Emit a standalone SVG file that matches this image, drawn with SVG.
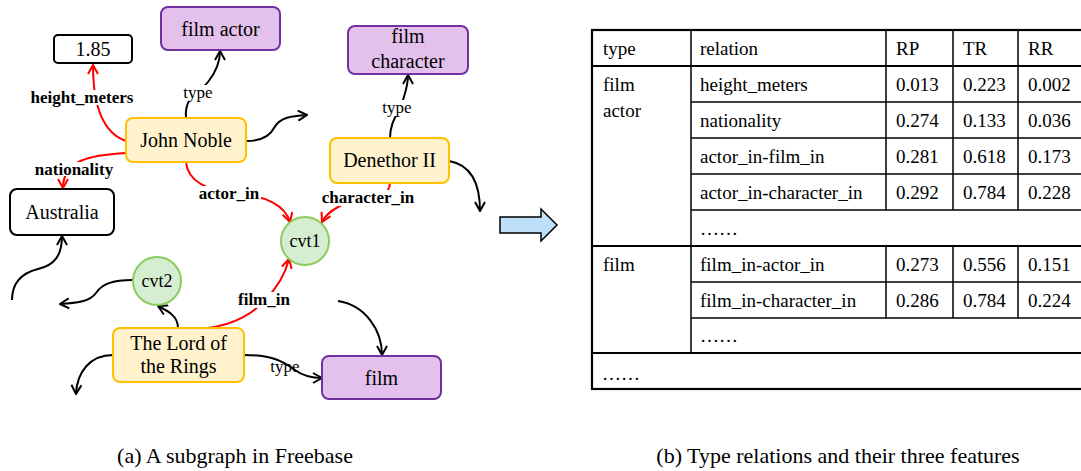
<svg xmlns="http://www.w3.org/2000/svg" width="1081" height="471" viewBox="0 0 1081 471">
<style>
text{font-family:"Liberation Serif","Times New Roman",serif;fill:#000}
.n{font-size:20px;text-anchor:middle}
.c{font-size:18px;text-anchor:middle}
.lb{font-size:17px;font-weight:bold;text-anchor:middle}
.lt{font-size:17px;text-anchor:middle}
.t{font-size:19px}
.cap{font-size:22px;text-anchor:middle}
.yel{fill:#FFF2CC;stroke:#FFC000;stroke-width:2}
.pur{fill:#E4C1EC;stroke:#7030A0;stroke-width:2}
.wht{fill:#fff;stroke:#000;stroke-width:2}
.grn{fill:#D5EDD0;stroke:#8CCB5E;stroke-width:2}
.eb{fill:none;stroke:#000;stroke-width:2;marker-end:url(#ab)}
.er{fill:none;stroke:#FF0000;stroke-width:2;marker-end:url(#ar)}
.bg{fill:#fff}
.tl{stroke:#000;stroke-width:1.5;fill:none}
.tk{stroke:#000;stroke-width:2.2;fill:none}
</style>
<defs>
<marker id="ab" viewBox="0 0 12 12" refX="11" refY="6" markerWidth="12" markerHeight="12" orient="auto" markerUnits="userSpaceOnUse"><path d="M2,1 L11,6 L2,11" fill="none" stroke="#000" stroke-width="2"/></marker>
<marker id="ar" viewBox="0 0 12 12" refX="11" refY="6" markerWidth="12" markerHeight="12" orient="auto" markerUnits="userSpaceOnUse"><path d="M2,1 L11,6 L2,11" fill="none" stroke="#FF0000" stroke-width="2"/></marker>
</defs>
<rect width="1081" height="471" fill="#fff"/>

<g id="connectors">
<path class="er" d="M126,141 C100,132 93,100 93,65"/>
<path class="er" d="M126,153 C90,155 63,160 63,188"/>
<path class="eb" d="M186,118 C184,95 200,92 208,82 C216,72 220,62 220,51"/>
<path class="eb" d="M246,141 C262,141 270,136 274,128 C280,117 292,116 307,115"/>
<path class="er" d="M186,162 C188,185 215,192 240,194 C265,196 285,205 290,222"/>
<path class="er" d="M390,183 C390,196 375,198 360,200 C345,202 328,210 322,222"/>
<path class="eb" d="M390,138 C390,120 400,112 403,100 C406,90 408,85 408,75"/>
<path class="eb" d="M449,161 C472,165 480,185 480,211"/>
<path class="er" d="M207,328 C235,325 255,312 265,300 C275,290 285,275 289,259"/>
<path class="eb" d="M178,328 C178,316 168,311 158,306"/>
<path class="eb" d="M133,280 C112,280 102,284 96,293 C90,302 75,303 60,304"/>
<path class="eb" d="M113,355 C90,355 77,372 76,394"/>
<path class="eb" d="M12,300 C12,282 22,273 38,269 C55,265 62,255 62,236"/>
<path class="eb" d="M244,355 C275,355 285,363 295,370 C303,376 312,378 322,378"/>
<path class="eb" d="M338,301 C365,305 382,330 382,355"/>
<rect class="bg" x="27" y="90" width="110" height="15"/>
<text class="lb" x="82" y="103">height_meters</text>
<rect class="bg" x="33" y="162" width="82" height="14"/>
<text class="lb" x="74" y="175">nationality</text>
<rect class="bg" x="183" y="85" width="30" height="16"/>
<text class="lt" x="198" y="98">type</text>
<rect class="bg" x="197" y="186" width="64" height="15"/>
<text class="lb" x="229" y="199">actor_in</text>
<rect class="bg" x="319" y="190" width="98" height="16"/>
<text class="lb" x="368" y="203">character_in</text>
<rect class="bg" x="382" y="100" width="30" height="16"/>
<text class="lt" x="397" y="113">type</text>
<rect class="bg" x="237" y="292" width="55" height="16"/>
<text class="lb" x="264" y="305">film_in</text>
<text class="lt" x="285" y="372">type</text>
</g>

<g id="n-185"><rect class="wht" x="54" y="35" width="78" height="28" rx="4"/><text class="n" x="93" y="56">1.85</text></g>
<g id="n-filmactor"><rect class="pur" x="161" y="7" width="119" height="43" rx="7"/><text class="n" x="220.5" y="36">film actor</text></g>
<g id="n-john"><rect class="yel" x="126" y="118" width="120" height="44" rx="7"/><text class="n" x="186" y="147">John Noble</text></g>
<g id="n-australia"><rect class="wht" x="10" y="189" width="104" height="46" rx="7"/><text class="n" x="62" y="219">Australia</text></g>
<g id="n-filmchar"><rect class="pur" x="348" y="26" width="120" height="48" rx="7"/><text class="n" x="408" y="43">film</text><text class="n" x="408" y="68">character</text></g>
<g id="n-denethor"><rect class="yel" x="330" y="138" width="119" height="45" rx="7"/><text class="n" x="389.5" y="167">Denethor II</text></g>
<g id="n-cvt1"><circle class="grn" cx="305" cy="241" r="24"/><text class="c" x="305" y="247">cvt1</text></g>
<g id="n-cvt2"><circle class="grn" cx="157" cy="281" r="24"/><text class="c" x="157" y="287">cvt2</text></g>
<g id="n-lotr"><rect class="yel" x="113" y="328" width="131" height="54" rx="7"/><text class="n" x="178.5" y="350">The Lord of</text><text class="n" x="178.5" y="373">the Rings</text></g>
<g id="n-film"><rect class="pur" x="322" y="356" width="119" height="43" rx="7"/><text class="n" x="381.5" y="385">film</text></g>

<g id="bigarrow"><path d="M500,217 L541,217 L541,209 L557,225 L541,241 L541,233 L500,233 Z" fill="#BDDFF8" stroke="#000" stroke-width="1.5" stroke-linejoin="miter"/></g>

<g id="table">
<rect class="tk" x="592" y="30" width="500" height="359"/>
<line class="tk" x1="592" y1="66" x2="1085" y2="66"/>
<line class="tl" x1="691" y1="102" x2="1085" y2="102"/>
<line class="tl" x1="691" y1="138" x2="1085" y2="138"/>
<line class="tl" x1="691" y1="174" x2="1085" y2="174"/>
<line class="tl" x1="691" y1="210" x2="1085" y2="210"/>
<line class="tk" x1="592" y1="246" x2="1085" y2="246"/>
<line class="tl" x1="691" y1="282" x2="1085" y2="282"/>
<line class="tl" x1="691" y1="318" x2="1085" y2="318"/>
<line class="tk" x1="592" y1="353" x2="1085" y2="353"/>
<line class="tl" x1="691" y1="30" x2="691" y2="353"/>
<line class="tl" x1="886" y1="30" x2="886" y2="210"/>
<line class="tl" x1="953" y1="30" x2="953" y2="210"/>
<line class="tl" x1="1018" y1="30" x2="1018" y2="210"/>
<line class="tl" x1="886" y1="246" x2="886" y2="318"/>
<line class="tl" x1="953" y1="246" x2="953" y2="318"/>
<line class="tl" x1="1018" y1="246" x2="1018" y2="318"/>
<text class="t" x="603" y="55">type</text>
<text class="t" x="700" y="55">relation</text>
<text class="t" x="896" y="55">RP</text>
<text class="t" x="963" y="55">TR</text>
<text class="t" x="1028" y="55">RR</text>
<text class="t" x="603" y="91">film</text>
<text class="t" x="603" y="117">actor</text>
<text class="t" x="700" y="91">height_meters</text>
<text class="t" x="896" y="91">0.013</text><text class="t" x="963" y="91">0.223</text><text class="t" x="1028" y="91">0.002</text>
<text class="t" x="700" y="127">nationality</text>
<text class="t" x="896" y="127">0.274</text><text class="t" x="963" y="127">0.133</text><text class="t" x="1028" y="127">0.036</text>
<text class="t" x="700" y="163">actor_in-film_in</text>
<text class="t" x="896" y="163">0.281</text><text class="t" x="963" y="163">0.618</text><text class="t" x="1028" y="163">0.173</text>
<text class="t" x="700" y="199">actor_in-character_in</text>
<text class="t" x="896" y="199">0.292</text><text class="t" x="963" y="199">0.784</text><text class="t" x="1028" y="199">0.228</text>
<text class="t" x="700" y="235">……</text>
<text class="t" x="603" y="271">film</text>
<text class="t" x="700" y="271">film_in-actor_in</text>
<text class="t" x="896" y="271">0.273</text><text class="t" x="963" y="271">0.556</text><text class="t" x="1028" y="271">0.151</text>
<text class="t" x="700" y="307">film_in-character_in</text>
<text class="t" x="896" y="307">0.286</text><text class="t" x="963" y="307">0.784</text><text class="t" x="1028" y="307">0.224</text>
<text class="t" x="700" y="342">……</text>
<text class="t" x="602" y="380">……</text>
</g>

<text class="cap" x="235" y="463">(a) A subgraph in Freebase</text>
<text class="cap" x="838" y="463">(b) Type relations and their three features</text>
</svg>
